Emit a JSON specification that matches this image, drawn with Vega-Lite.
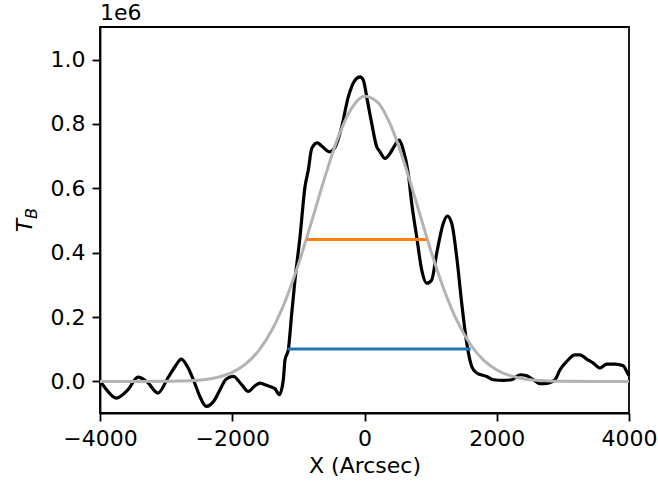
{
  "$schema": "https://vega.github.io/schema/vega-lite/v6.json",
  "width": 529,
  "height": 386,
  "autosize": {"type": "none"},
  "padding": {"left": 100, "top": 27, "right": 29, "bottom": 77},
  "background": "white",
  "title": {"text": "1e6", "anchor": "start", "frame": "group", "fontSize": 22, "fontWeight": "normal", "font": "DejaVu Sans", "color": "black", "offset": 5, "dy": 3},
  "config": {
    "view": {"stroke": "black", "strokeWidth": 1.8},
    "axis": {
      "grid": false, "domainColor": "black", "domainWidth": 1.8, "tickColor": "black", "tickWidth": 1.8, "tickSize": 8,
      "labelFont": "DejaVu Sans", "labelFontSize": 22, "labelColor": "black", "labelPadding": 7,
      "titleFont": "DejaVu Sans", "titleFontSize": 22, "titleFontWeight": "normal", "titleColor": "black",
      "labelFlush": false, "labelOverlap": false, "labelBound": false
    }
  },
  "datasets": {
    "black": [
      {"x": -4000, "y": 2000}, {"x": -3924, "y": -19500}, {"x": -3754, "y": -51500}, {"x": -3577, "y": -25700}, {"x": -3425, "y": 13600}, {"x": -3289, "y": -1000}, {"x": -3123, "y": -36000}, {"x": -2972, "y": 11500}, {"x": -2866, "y": 45600}, {"x": -2771, "y": 69500}, {"x": -2669, "y": 42500}, {"x": -2568, "y": -5000}, {"x": -2488, "y": -47500}, {"x": -2392, "y": -77500}, {"x": -2265, "y": -56800}, {"x": -2185, "y": -25700}, {"x": -2090, "y": 7400}, {"x": -1984, "y": 15500}, {"x": -1857, "y": -10200}, {"x": -1757, "y": -31000}, {"x": -1656, "y": -13300}, {"x": -1580, "y": -5000}, {"x": -1505, "y": -10200}, {"x": -1429, "y": -15500}, {"x": -1354, "y": -22600}, {"x": -1288, "y": -41300}, {"x": -1228, "y": 5300}, {"x": -1202, "y": 67300}, {"x": -1152, "y": 98300}, {"x": -1104, "y": 203800}, {"x": -1051, "y": 315400}, {"x": -975, "y": 449800}, {"x": -900, "y": 604800}, {"x": -850, "y": 656600}, {"x": -798, "y": 723900}, {"x": -714, "y": 741300}, {"x": -647, "y": 731100}, {"x": -532, "y": 713400}, {"x": -446, "y": 727000}, {"x": -345, "y": 790900}, {"x": -245, "y": 884000}, {"x": -144, "y": 935800}, {"x": -68, "y": 946000}, {"x": -18, "y": 935800}, {"x": 42, "y": 873800}, {"x": 109, "y": 801500}, {"x": 185, "y": 728900}, {"x": 234, "y": 713400}, {"x": 310, "y": 692900}, {"x": 386, "y": 708400}, {"x": 461, "y": 734200}, {"x": 526, "y": 749700}, {"x": 587, "y": 718700}, {"x": 662, "y": 646400}, {"x": 714, "y": 553300}, {"x": 789, "y": 449800}, {"x": 865, "y": 346500}, {"x": 941, "y": 305200}, {"x": 1016, "y": 315400}, {"x": 1092, "y": 398300}, {"x": 1192, "y": 491300}, {"x": 1252, "y": 514000}, {"x": 1319, "y": 491300}, {"x": 1394, "y": 387700}, {"x": 1470, "y": 243200}, {"x": 1546, "y": 119100}, {"x": 1621, "y": 46500}, {"x": 1697, "y": 26100}, {"x": 1848, "y": 15500}, {"x": 1948, "y": 5300}, {"x": 2099, "y": 3100}, {"x": 2226, "y": 5300}, {"x": 2352, "y": 20800}, {"x": 2453, "y": 17700}, {"x": 2553, "y": 5300}, {"x": 2654, "y": -7100}, {"x": 2780, "y": -5000}, {"x": 2881, "y": 5300}, {"x": 2957, "y": 36300}, {"x": 3058, "y": 62000}, {"x": 3183, "y": 82800}, {"x": 3259, "y": 82800}, {"x": 3360, "y": 69500}, {"x": 3460, "y": 57100}, {"x": 3561, "y": 41600}, {"x": 3663, "y": 54000}, {"x": 3788, "y": 54000}, {"x": 3914, "y": 48700}, {"x": 3965, "y": 31000}, {"x": 4000, "y": 17700}
    ],
    "gauss": [
      {"x": -4000, "y": 0}, {"x": -3500, "y": 0}, {"x": -3000, "y": 415}, {"x": -2800, "y": 1100}, {"x": -2600, "y": 2740}, {"x": -2400, "y": 6380}, {"x": -2200, "y": 13900}, {"x": -2000, "y": 28200}, {"x": -1800, "y": 53800}, {"x": -1600, "y": 95800}, {"x": -1400, "y": 159800}, {"x": -1200, "y": 249200}, {"x": -1000, "y": 363600}, {"x": -800, "y": 496500}, {"x": -600, "y": 634100}, {"x": -400, "y": 757800}, {"x": -200, "y": 847200}, {"x": 0, "y": 886100}, {"x": 200, "y": 867100}, {"x": 400, "y": 793900}, {"x": 600, "y": 680000}, {"x": 800, "y": 545000}, {"x": 1000, "y": 408500}, {"x": 1200, "y": 286600}, {"x": 1400, "y": 188000}, {"x": 1600, "y": 115500}, {"x": 1800, "y": 66300}, {"x": 2000, "y": 35600}, {"x": 2200, "y": 17900}, {"x": 2400, "y": 8400}, {"x": 2600, "y": 3700}, {"x": 2800, "y": 1500}, {"x": 3000, "y": 590}, {"x": 3500, "y": 0}, {"x": 4000, "y": 0}
    ],
    "widths": [
      {"name": "base", "x1": -1165, "x2": 1607, "y": 101000},
      {"name": "half", "x1": -874, "x2": 941, "y": 441000}
    ]
  },
  "layer": [
    {
      "data": {"name": "black"},
      "mark": {"type": "line", "color": "black", "strokeWidth": 3.2, "interpolate": "monotone"},
      "encoding": {
        "x": {"field": "x", "type": "quantitative", "scale": {"domain": [-4000, 4000], "nice": false, "zero": false},
              "axis": {"title": "X (Arcsec)", "values": [-4000, -2000, 0, 2000, 4000], "labelExpr": "replace(format(datum.value, 'd'), '-', '\u2212')", "titlePadding": 6}},
        "y": {"field": "y", "type": "quantitative", "scale": {"domain": [-98000, 1101000], "nice": false, "zero": false},
              "axis": {"orient": "left", "title": "T", "titleFontStyle": "italic", "titleAngle": 270, "titleX": -69, "titleY": 198, "titleAlign": "center", "titleBaseline": "alphabetic",
                       "values": [0, 200000, 400000, 600000, 800000, 1000000], "labelExpr": "format(datum.value / 1000000, '.1f')"}}
      }
    },
    {
      "data": {"name": "gauss"},
      "mark": {"type": "line", "color": "#b3b3b3", "strokeWidth": 3, "interpolate": "monotone"},
      "encoding": {
        "x": {"field": "x", "type": "quantitative"},
        "y": {"field": "y", "type": "quantitative",
              "axis": {"orient": "left", "title": "B", "titleFontSize": 16, "titleFontStyle": "italic", "titleAngle": 270, "titleX": -64, "titleY": 186, "titleAlign": "center", "titleBaseline": "alphabetic",
                       "domain": false, "ticks": false, "labels": false}}
      }
    },
    {
      "data": {"name": "widths"},
      "mark": {"type": "rule", "strokeWidth": 3},
      "encoding": {
        "x": {"field": "x1", "type": "quantitative"},
        "x2": {"field": "x2"},
        "y": {"field": "y", "type": "quantitative", "axis": null},
        "color": {"field": "name", "type": "nominal", "scale": {"domain": ["base", "half"], "range": ["#1f77b4", "#ff7f0e"]}, "legend": null}
      }
    }
  ],
  "resolve": {"axis": {"y": "independent"}}
}
